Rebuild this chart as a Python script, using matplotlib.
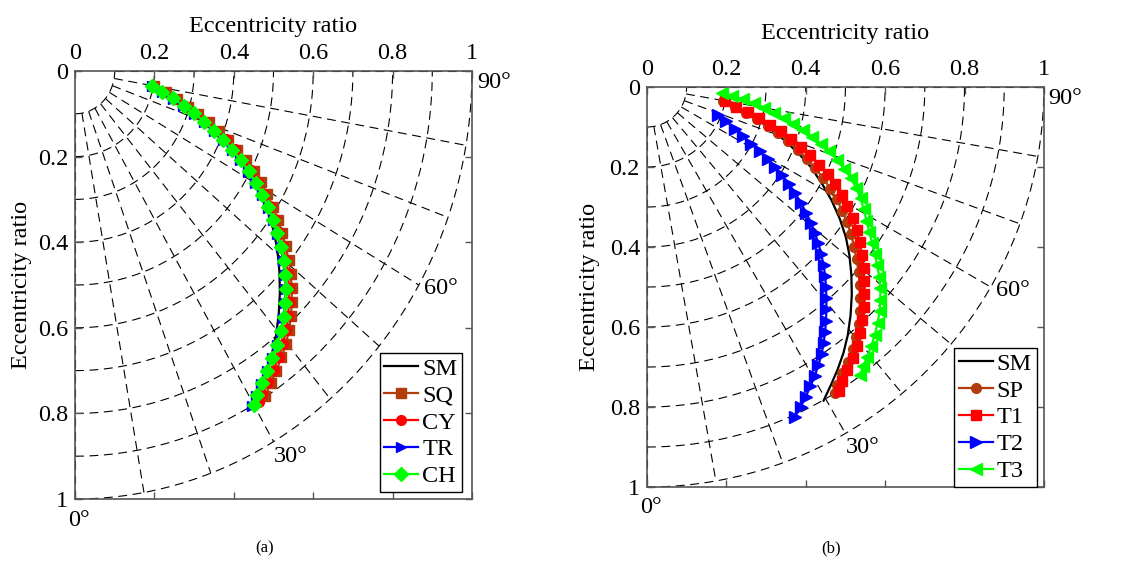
"""Journal-bearing centre loci on a quarter-polar grid, panels (a) and (b)."""
import numpy as np
import matplotlib
matplotlib.use("Agg")
import matplotlib.pyplot as plt

plt.rcParams["font.family"] = ["Liberation Serif", "DejaVu Serif"]

# ---- data (x = horizontal eccentricity ratio, y = vertical, downwards) ----
sm_x = [0.193, 0.230, 0.268, 0.306, 0.344, 0.381, 0.413, 0.440, 0.465, 0.486,
        0.501, 0.510, 0.515, 0.516, 0.513, 0.506, 0.495, 0.480, 0.463, 0.445]
sm_y = [0.035, 0.053, 0.075, 0.101, 0.131, 0.165, 0.200, 0.240, 0.283, 0.330,
        0.375, 0.420, 0.470, 0.520, 0.570, 0.620, 0.665, 0.707, 0.746, 0.784]

# panel (a)
sq_x = [0.200, 0.228, 0.256, 0.284, 0.311, 0.337, 0.362, 0.386, 0.409, 0.430,
        0.450, 0.468, 0.484, 0.498, 0.511, 0.522, 0.531, 0.538, 0.543, 0.546,
        0.546, 0.544, 0.539, 0.531, 0.520, 0.507, 0.493, 0.478]
sq_y = [0.036, 0.050, 0.066, 0.083, 0.101, 0.120, 0.140, 0.161, 0.184, 0.208,
        0.233, 0.260, 0.288, 0.317, 0.347, 0.378, 0.410, 0.442, 0.474, 0.507,
        0.540, 0.573, 0.606, 0.638, 0.669, 0.700, 0.730, 0.760]
cy_x = [0.196, 0.224, 0.251, 0.278, 0.305, 0.331, 0.356, 0.380, 0.402, 0.423,
        0.443, 0.461, 0.477, 0.491, 0.504, 0.515, 0.524, 0.531, 0.536, 0.539,
        0.539, 0.537, 0.532, 0.524, 0.513, 0.500, 0.486, 0.472, 0.464]
cy_y = [0.036, 0.050, 0.065, 0.082, 0.100, 0.119, 0.139, 0.160, 0.183, 0.207,
        0.232, 0.259, 0.287, 0.316, 0.346, 0.377, 0.409, 0.441, 0.473, 0.506,
        0.539, 0.572, 0.605, 0.637, 0.668, 0.698, 0.727, 0.755, 0.774]
tr_x = [0.193, 0.219, 0.246, 0.273, 0.299, 0.325, 0.349, 0.373, 0.395, 0.416,
        0.436, 0.454, 0.470, 0.485, 0.498, 0.509, 0.518, 0.525, 0.529, 0.531,
        0.529, 0.525, 0.518, 0.508, 0.496, 0.483, 0.469, 0.456, 0.446]
tr_y = [0.036, 0.050, 0.065, 0.082, 0.100, 0.119, 0.140, 0.162, 0.185, 0.209,
        0.235, 0.262, 0.290, 0.319, 0.349, 0.380, 0.412, 0.444, 0.477, 0.510,
        0.543, 0.576, 0.609, 0.641, 0.671, 0.701, 0.731, 0.759, 0.783]
ch_x = [0.193, 0.220, 0.247, 0.274, 0.300, 0.326, 0.350, 0.374, 0.396, 0.417,
        0.437, 0.455, 0.471, 0.486, 0.499, 0.510, 0.519, 0.526, 0.530, 0.532,
        0.530, 0.526, 0.519, 0.509, 0.497, 0.484, 0.470, 0.458, 0.450]
ch_y = [0.035, 0.049, 0.064, 0.081, 0.099, 0.118, 0.139, 0.161, 0.184, 0.208,
        0.234, 0.261, 0.289, 0.318, 0.348, 0.379, 0.411, 0.443, 0.476, 0.509,
        0.542, 0.575, 0.608, 0.640, 0.670, 0.700, 0.730, 0.758, 0.780]

# panel (b)
sp_x = [0.192, 0.221, 0.250, 0.278, 0.305, 0.331, 0.356, 0.380, 0.403, 0.424,
        0.444, 0.462, 0.478, 0.492, 0.504, 0.514, 0.522, 0.528, 0.533, 0.536,
        0.537, 0.536, 0.533, 0.527, 0.518, 0.506, 0.492, 0.480, 0.474]
sp_y = [0.036, 0.050, 0.065, 0.081, 0.098, 0.116, 0.136, 0.157, 0.179, 0.203,
        0.228, 0.254, 0.281, 0.309, 0.338, 0.368, 0.399, 0.430, 0.462, 0.494,
        0.527, 0.560, 0.592, 0.624, 0.655, 0.688, 0.716, 0.744, 0.766]
t1_x = [0.196, 0.225, 0.254, 0.282, 0.310, 0.337, 0.363, 0.388, 0.412, 0.434,
        0.455, 0.474, 0.491, 0.505, 0.518, 0.528, 0.536, 0.542, 0.546, 0.548,
        0.548, 0.547, 0.543, 0.537, 0.529, 0.518, 0.505, 0.492, 0.484]
t1_y = [0.036, 0.049, 0.063, 0.078, 0.094, 0.111, 0.130, 0.150, 0.171, 0.194,
        0.218, 0.243, 0.270, 0.298, 0.327, 0.357, 0.388, 0.420, 0.452, 0.485,
        0.518, 0.550, 0.583, 0.615, 0.647, 0.678, 0.708, 0.735, 0.760]
t2_x = [0.179, 0.200, 0.221, 0.242, 0.263, 0.284, 0.304, 0.323, 0.341, 0.358,
        0.374, 0.388, 0.401, 0.413, 0.423, 0.432, 0.439, 0.445, 0.449, 0.451,
        0.452, 0.452, 0.451, 0.449, 0.445, 0.440, 0.432, 0.423, 0.412, 0.400,
        0.387, 0.373]
t2_y = [0.069, 0.086, 0.104, 0.123, 0.142, 0.161, 0.180, 0.200, 0.221, 0.243,
        0.266, 0.290, 0.314, 0.339, 0.365, 0.391, 0.418, 0.445, 0.472, 0.500,
        0.528, 0.556, 0.584, 0.612, 0.640, 0.668, 0.695, 0.722, 0.748, 0.774,
        0.800, 0.825]
t3_x = [0.188, 0.215, 0.242, 0.269, 0.295, 0.320, 0.345, 0.369, 0.393, 0.416,
        0.438, 0.459, 0.479, 0.497, 0.513, 0.527, 0.538, 0.546, 0.553, 0.560,
        0.567, 0.574, 0.580, 0.585, 0.588, 0.588, 0.586, 0.581, 0.574, 0.565,
        0.554, 0.545, 0.537]
t3_y = [0.015, 0.022, 0.031, 0.041, 0.052, 0.064, 0.077, 0.092, 0.107, 0.124,
        0.142, 0.161, 0.182, 0.204, 0.227, 0.252, 0.278, 0.306, 0.334, 0.362,
        0.390, 0.418, 0.446, 0.474, 0.503, 0.532, 0.561, 0.590, 0.619, 0.648,
        0.676, 0.698, 0.720]

tick_vals = [0, 0.2, 0.4, 0.6, 0.8, 1]
tick_text = ["0", "0.2", "0.4", "0.6", "0.8", "1"]
grid_radii = [0.1, 0.2, 0.3, 0.4, 0.5, 0.6, 0.7, 0.8, 0.9, 1.0]
grid_angles = [0, 10, 20, 30, 40, 50, 60, 70, 80, 90]
angle_labels = [0, 30, 60, 90]
label_dirs = [0.5, 31, 61, 88.5]       # where each angle label sits

BROWN = "#b23c0c"
FS = 17.5


def polar_grid(ax):
    t = np.radians(np.linspace(0, 90, 300))
    dash = dict(color="k", lw=0.8, ls=(0, (8, 5)), zorder=1, clip_on=False)
    for r in grid_radii:
        ax.plot(r * np.sin(t), r * np.cos(t), **dash)
    for a in grid_angles:
        s, c = np.sin(np.radians(a)), np.cos(np.radians(a))
        ax.plot([0.1 * s, s], [0.1 * c, c], **dash)
    for a, d in zip(angle_labels, label_dirs):
        s, c = np.sin(np.radians(d)), np.cos(np.radians(d))
        ax.text(1.055 * s, 1.05 * c, f"{a}°", fontsize=FS, ha="center",
                va="center")


def style_axes(ax, ylab_x, xlab_y):
    ax.set_xlim(0, 1)
    ax.set_ylim(1, 0)
    ax.xaxis.tick_top()
    ax.set_xticks(tick_vals, tick_text)
    ax.set_yticks(tick_vals, tick_text)
    ax.tick_params(direction="in", length=5, width=1, color="#555555",
                   labelsize=FS, top=True, bottom=True, left=True, right=True,
                   labeltop=True, labelbottom=False, pad=5)
    for sp in ax.spines.values():
        sp.set_color("#555555")
        sp.set_linewidth(1.2)
    ax.set_xlabel("Eccentricity ratio", fontsize=FS)
    ax.xaxis.set_label_position("top")
    ax.xaxis.set_label_coords(0.5, xlab_y)
    ax.set_ylabel("Eccentricity ratio", fontsize=FS)
    ax.yaxis.set_label_coords(ylab_x, 0.5)


def legend(ax, anchor):
    leg = ax.legend(loc="lower right", bbox_to_anchor=anchor, fontsize=FS,
                    frameon=True, fancybox=False, framealpha=1,
                    edgecolor="k", handlelength=1.4, handletextpad=0.15,
                    labelspacing=0.2, borderpad=0.2, borderaxespad=0)
    leg.get_frame().set_linewidth(1.0)


fig = plt.figure(figsize=(11.42, 5.65), dpi=100)
mk = dict(lw=1.6, markersize=7)

# ---- panel (a) ----
ax1 = fig.add_axes([0.0657, 0.1168, 0.3476, 0.7575])
polar_grid(ax1)
ax1.plot(sm_x, sm_y, color="k", lw=1.6, label="SM", zorder=2)
ax1.plot(sq_x, sq_y, color=BROWN, marker="s", label="SQ", **mk)
ax1.plot(cy_x, cy_y, color="#ff0000", marker="o", label="CY", **mk)
ax1.plot(tr_x, tr_y, color="#0000ff", marker=">", label="TR", lw=1.6,
         markersize=7)
ax1.plot(ch_x, ch_y, color="#00ff00", marker="D", label="CH", lw=1.6,
         markersize=7)
style_axes(ax1, -0.108, 1.091)
legend(ax1, (0.975, 0.016))

# ---- panel (b) ----
ax2 = fig.add_axes([0.5665, 0.138, 0.3476, 0.708])
polar_grid(ax2)
ax2.plot(sm_x, sm_y, color="k", lw=1.6, label="SM", zorder=2)
ax2.plot(sp_x, sp_y, color=BROWN, marker="o", label="SP", **mk)
ax2.plot(t1_x, t1_y, color="#ff0000", marker="s", label="T1", **mk)
ax2.plot(t2_x, t2_y, color="#0000ff", marker=">", label="T2", lw=1.6,
         markersize=8)
ax2.plot(t3_x, t3_y, color="#00ff00", marker="<", label="T3", lw=1.6,
         markersize=8)
style_axes(ax2, -0.118, 1.12)
legend(ax2, (0.982, 0.0))

fig.text(0.232, 0.030, "(a)", fontsize=12, ha="center", va="center")
fig.text(0.728, 0.030, "(b)", fontsize=12, ha="center", va="center")

fig.savefig("out.png", dpi=100)
